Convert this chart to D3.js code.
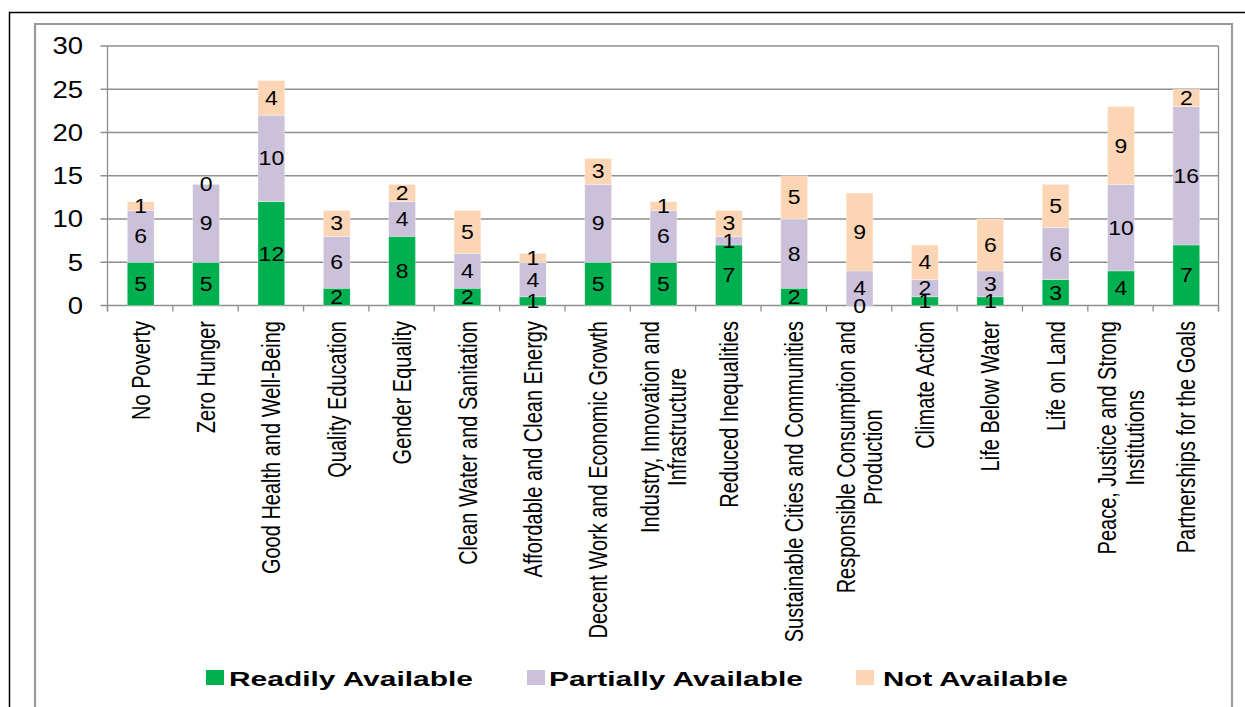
<!DOCTYPE html>
<html>
<head>
<meta charset="utf-8">
<script src="https://cdn.jsdelivr.net/npm/d3@7"></script>
<style>
  html, body { margin: 0; padding: 0; background: #fff; }
  svg { display: block; font-family: "Liberation Sans", Arial, sans-serif; }
</style>
</head>
<body>
<svg id="chart" width="1245" height="707"></svg>
<script>
// ── Data ──
const goals = [
  ['No Poverty'],
  ['Zero Hunger'],
  ['Good Health and Well-Being'],
  ['Quality Education'],
  ['Gender Equality'],
  ['Clean Water and Sanitation'],
  ['Affordable and Clean Energy'],
  ['Decent Work and Economic Growth'],
  ['Industry, Innovation and', 'Infrastructure'],
  ['Reduced Inequalities'],
  ['Sustainable Cities and Communities'],
  ['Responsible Consumption and', 'Production'],
  ['Climate Action'],
  ['Life Below Water'],
  ['Life on Land'],
  ['Peace, Justice and Strong', 'Institutions'],
  ['Partnerships for the Goals'],
];
const readily   = [5, 5, 12, 2, 8, 2, 1, 5, 5, 7, 2, 0, 1, 1, 3, 4, 7];
const partially = [6, 9, 10, 6, 4, 4, 4, 9, 6, 1, 8, 4, 2, 3, 6, 10, 16];
const notAvail  = [1, 0, 4, 3, 2, 5, 1, 3, 1, 3, 5, 9, 4, 6, 5, 9, 2];
const yTicks = [0, 5, 10, 15, 20, 25, 30];

const seriesNames = ['Readily Available', 'Partially Available', 'Not Available'];
const colors = ['#00B050', '#CCC1DA', '#FCD5B5'];

// ── Layout ──
const plot = { left: 107.5, right: 1218.5, top: 46, bottom: 305.5 };
const svg = d3.select('#chart');

// outer frames
svg.append('path').attr('d', 'M9.5,707 V12.5 H1245').attr('fill', 'none').attr('stroke', '#000').attr('stroke-width', 1.5);
svg.append('path').attr('d', 'M35,707 V24 H1232 V707').attr('fill', 'none').attr('stroke', '#999').attr('stroke-width', 2.2);

const rows = goals.map((g, i) => ({
  i, name: g,
  r: readily[i], p: partially[i], n: notAvail[i],
  labels: [readily[i], partially[i], notAvail[i]],
}));

const x = d3.scaleBand().domain(d3.range(goals.length))
  .range([plot.left, plot.right]).paddingInner(0.59).paddingOuter(0.295);
const y = d3.scaleLinear().domain([0, 30]).range([plot.bottom, plot.top]);
const step = (plot.right - plot.left) / goals.length;

// gridlines
svg.append('g').selectAll('line').data(yTicks).join('line')
  .attr('x1', plot.left - 7).attr('x2', plot.right)
  .attr('y1', d => y(d)).attr('y2', d => y(d))
  .attr('stroke', '#8E8E8E').attr('stroke-width', 1.3);

// right border + y axis line
svg.append('line').attr('x1', plot.right).attr('x2', plot.right).attr('y1', plot.top).attr('y2', plot.bottom + 6)
  .attr('stroke', '#8E8E8E').attr('stroke-width', 1.3);
svg.append('line').attr('x1', plot.left).attr('x2', plot.left).attr('y1', plot.top).attr('y2', plot.bottom + 6)
  .attr('stroke', '#8E8E8E').attr('stroke-width', 1.3);

// x ticks at category boundaries
svg.append('g').selectAll('line').data(d3.range(goals.length + 1)).join('line')
  .attr('x1', d => plot.left + d * step).attr('x2', d => plot.left + d * step)
  .attr('y1', plot.bottom).attr('y2', plot.bottom + 6)
  .attr('stroke', '#8E8E8E').attr('stroke-width', 1.3);

// y tick labels
svg.append('g').selectAll('text').data(yTicks).join('text')
  .attr('transform', d => `translate(83,${y(d)}) scale(1.17,1)`)
  .attr('dy', '0.36em').attr('text-anchor', 'end')
  .attr('font-size', 23.5).attr('fill', '#000')
  .text(d => d);

// stacked bars
const stack = d3.stack().keys(['r', 'p', 'n']);
const layers = stack(rows);

const layerG = svg.append('g').selectAll('g').data(layers).join('g')
  .attr('fill', (d, k) => colors[k]);

layerG.selectAll('rect').data(d => d).join('rect')
  .attr('x', d => x(d.data.i) + 0.5)
  .attr('width', x.bandwidth())
  .attr('y', d => y(d[1]))
  .attr('height', d => y(d[0]) - y(d[1]))
  .attr('stroke', '#fff').attr('stroke-opacity', 0.5).attr('stroke-width', 0.6);

// data labels
layers.forEach((layer, k) => {
  svg.append('g').selectAll('text').data(layer).join('text')
    .attr('transform', d => `translate(${x(d.data.i) + 0.5 + x.bandwidth() / 2},${y((d[0] + d[1]) / 2)}) scale(1.18,1)`)
    .attr('dy', '0.36em').attr('text-anchor', 'middle')
    .attr('font-size', 19.5).attr('fill', '#000')
    .text(d => d.data.labels[k]);
});

// category labels (rotated, lines centred on each other, top end at the axis)
const labelFont = 20, labelStretch = 1.3, labelTop = 321, lineH = 21;
const catG = svg.append('g').selectAll('g').data(rows).join('g');
catG.each(function (d) {
  const g = d3.select(this);
  const t = g.append('text').attr('font-size', labelFont).attr('text-anchor', 'middle').attr('fill', '#000');
  const n = d.name.length;
  d.name.forEach((line, j) => {
    t.append('tspan').attr('x', 0).attr('y', (j - (n - 1) / 2) * lineH).attr('dy', '0.35em').text(line);
  });
  const maxW = d3.max(t.selectAll('tspan').nodes(), nd => nd.getComputedTextLength());
  const cx = x(d.i) + 0.5 + x.bandwidth() / 2;
  g.attr('transform', `translate(${cx},${labelTop + maxW / 2}) scale(${labelStretch},1) rotate(-90)`);
});

// legend: wide bold text, stretched to the widths seen in the picture
const legendItems = [
  { box: 206, text: 229, width: 244 },
  { box: 527, text: 549, width: 254 },
  { box: 856, text: 883, width: 185 },
];
const legG = svg.append('g').selectAll('g').data(seriesNames).join('g');
legG.append('rect')
  .attr('x', (d, k) => legendItems[k].box).attr('y', 670)
  .attr('width', 18).attr('height', 15)
  .attr('fill', (d, k) => colors[k]);
legG.each(function (d, k) {
  const t = d3.select(this).append('text')
    .attr('font-size', 21).attr('font-weight', 'bold').attr('fill', '#000')
    .text(d);
  const w = t.node().getComputedTextLength();
  t.attr('transform', `translate(${legendItems[k].text},686) scale(${legendItems[k].width / w},1)`);
});
</script>
</body>
</html>
